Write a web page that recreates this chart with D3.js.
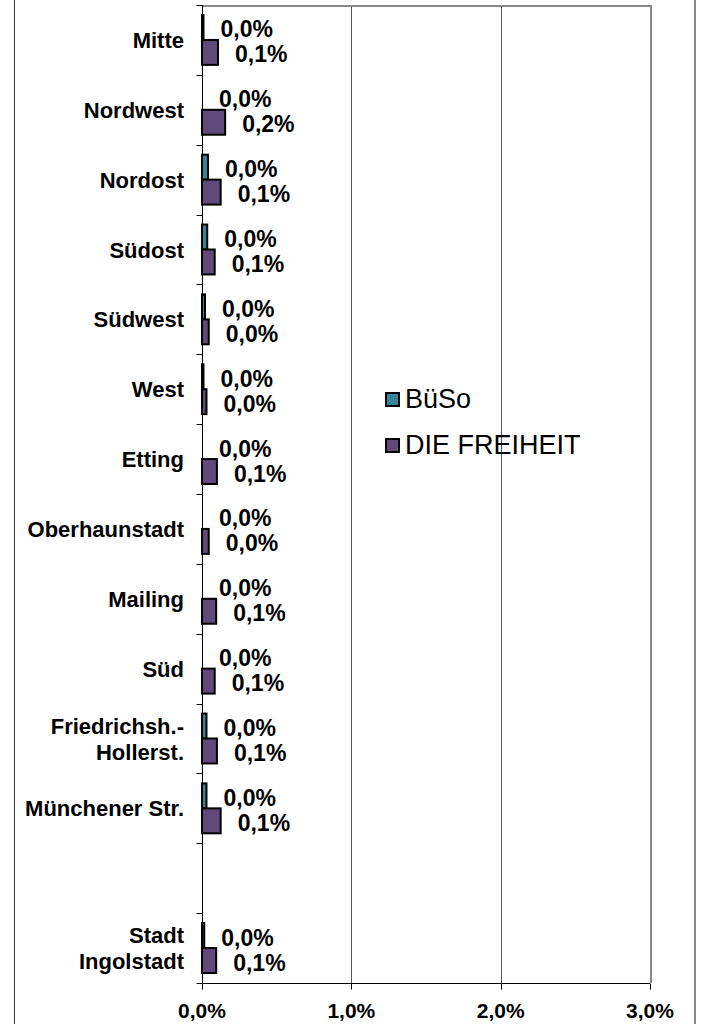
<!DOCTYPE html>
<html>
<head>
<meta charset="utf-8">
<script src="https://cdn.jsdelivr.net/npm/d3@7"></script>
<style>
  body { margin: 0; background: #fff; }
  svg { display: block; font-family: Arial, "Liberation Sans", sans-serif; }
</style>
</head>
<body>
<div class="chart"></div>
<script>
// districts, top to bottom ("" is the empty slot before the city total)
var categories = ["Mitte", "Nordwest", "Nordost", "Südost", "Südwest", "West", "Etting",
    "Oberhaunstadt", "Mailing", "Süd", "Friedrichsh.-\nHollerst.", "Münchener Str.", "",
    "Stadt\nIngolstadt"];
var series = ["BüSo", "DIE FREIHEIT"];
var buso = [0.0001, 0, 0.0004, 0.00035, 0.0002, 0.0001, 0, 0, 0, 0, 0.0003, 0.0003, null, 0.00015];
var freiheit = [0.00107, 0.00155, 0.00125, 0.00085, 0.00045, 0.0003, 0.001, 0.00045, 0.00095,
    0.00085, 0.001, 0.00125, null, 0.00095];
var xTicks = [0, 0.01, 0.02, 0.03];
var colors = ["#31859C", "#604A7B"];

var width = 704, height = 1024;
var margin = {top: 5, right: 54, bottom: 41, left: 202};

var de = d3.formatLocale({decimal: ",", thousands: ".", grouping: [3], currency: ["", " €"]});
var pct = de.format(".1%");

var svg = d3.select(".chart").append("svg")
    .attr("width", width)
    .attr("height", height);

// outer chart frame (cropped)
svg.append("line").attr("x1", 14.5).attr("x2", 14.5).attr("y1", 0).attr("y2", height)
    .attr("stroke", "#333").attr("stroke-width", 1);
svg.append("line").attr("x1", 695).attr("x2", 695).attr("y1", 0).attr("y2", height)
    .attr("stroke", "#888").attr("stroke-width", 2);

var x = d3.scaleLinear()
    .domain([0, 0.03])
    .range([margin.left, width - margin.right]);

var y = d3.scaleBand()
    .domain(d3.range(categories.length))
    .range([margin.top, height - margin.bottom])
    .padding(0);

var y1 = d3.scaleBand()
    .domain(series)
    .range([0, y.bandwidth()])
    .paddingInner(0)
    .paddingOuter(0.4);

// gridlines
svg.append("g").selectAll("line")
    .data(xTicks.slice(1, -1))
    .enter().append("line")
    .attr("x1", function (d) { return Math.round(x(d)) + 0.5; })
    .attr("x2", function (d) { return Math.round(x(d)) + 0.5; })
    .attr("y1", margin.top)
    .attr("y2", height - margin.bottom)
    .attr("stroke", "#555");

// plot area border (top + right)
svg.append("path")
    .attr("d", "M" + margin.left + "," + (margin.top + 1) + "H" + (x(0.03) + 1) + "V" + (height - margin.bottom))
    .attr("fill", "none")
    .attr("stroke", "#888")
    .attr("stroke-width", 2);

var rows = categories.map(function (c, i) {
    return {i: i, name: c, vals: [buso[i], freiheit[i]]};
}).filter(function (d) { return d.vals[0] !== null; });

var grp = svg.append("g").selectAll("g")
    .data(rows)
    .enter().append("g")
    .attr("transform", function (d) { return "translate(0," + y(d.i) + ")"; });

grp.selectAll("rect")
    .data(function (d) { return d.vals.map(function (v, k) { return {s: series[k], k: k, v: v}; }); })
    .enter().append("rect")
    .attr("x", x(0))
    .attr("y", function (d) { return y1(d.s); })
    .attr("width", function (d) { return x(d.v) - x(0); })
    .attr("height", y1.bandwidth())
    .attr("fill", function (d) { return colors[d.k]; })
    .attr("stroke", "#000")
    .attr("stroke-width", 2);

grp.selectAll(".txt")
    .data(function (d) { return d.vals.map(function (v, k) { return {s: series[k], k: k, v: v}; }); })
    .enter().append("text")
    .attr("class", "txt")
    .attr("x", function (d) { return x(d.v) + 17; })
    .attr("y", function (d) { return y1(d.s) + y1.bandwidth() / 2 + 10; })
    .attr("font-size", 23)
    .attr("font-weight", "bold")
    .attr("fill", "#000")
    .text(function (d) { return pct(d.v); });

// left axis
var yAxis = svg.append("g")
    .attr("transform", "translate(" + (margin.left + 0.5) + ",0)");
yAxis.append("line")
    .attr("y1", margin.top).attr("y2", height - margin.bottom)
    .attr("stroke", "#000");
yAxis.selectAll(".tk")
    .data(d3.range(categories.length + 1))
    .enter().append("line")
    .attr("x1", -6).attr("x2", 0)
    .attr("y1", function (i) { return Math.round(margin.top + i * y.step()) + 0.5; })
    .attr("y2", function (i) { return Math.round(margin.top + i * y.step()) + 0.5; })
    .attr("stroke", "#000");

var lab = svg.append("g").selectAll("text")
    .data(categories.map(function (c, i) { return {i: i, lines: c.split("\n")}; }))
    .enter().append("text")
    .attr("text-anchor", "end")
    .attr("font-size", 22)
    .attr("font-weight", "bold")
    .attr("fill", "#000");
lab.each(function (d) {
    var cy = y(d.i) + y.bandwidth() / 2;
    var n = d.lines.length;
    d3.select(this).selectAll("tspan")
        .data(d.lines)
        .enter().append("tspan")
        .attr("x", 184)
        .attr("y", function (t, j) { return cy + 8 + (j - (n - 1) / 2) * 26; })
        .text(function (t) { return t; });
});

// bottom axis
var xAxis = svg.append("g")
    .attr("transform", "translate(0," + (height - margin.bottom + 0.5) + ")");
xAxis.append("line")
    .attr("x1", margin.left).attr("x2", x(0.03))
    .attr("stroke", "#000");
xAxis.selectAll(".tk")
    .data(xTicks)
    .enter().append("line")
    .attr("x1", function (d) { return Math.round(x(d)) + 0.5; })
    .attr("x2", function (d) { return Math.round(x(d)) + 0.5; })
    .attr("y1", 0).attr("y2", 6)
    .attr("stroke", "#000");
xAxis.selectAll("text")
    .data(xTicks)
    .enter().append("text")
    .attr("x", function (d) { return x(d); })
    .attr("y", 34)
    .attr("text-anchor", "middle")
    .attr("font-size", 21)
    .attr("font-weight", "bold")
    .text(function (d) { return pct(d); });

// legend
var leg = svg.append("g").selectAll("g")
    .data(series)
    .enter().append("g")
    .attr("transform", function (d, i) { return "translate(386," + (393 + i * 46) + ")"; });
leg.append("rect")
    .attr("width", 13).attr("height", 13)
    .attr("fill", function (d, i) { return colors[i]; })
    .attr("stroke", "#000")
    .attr("stroke-width", 2);
leg.append("text")
    .attr("x", 19)
    .attr("y", 15)
    .attr("font-size", 27)
    .attr("fill", "#000")
    .text(function (d) { return d; });
</script>
</body>
</html>
